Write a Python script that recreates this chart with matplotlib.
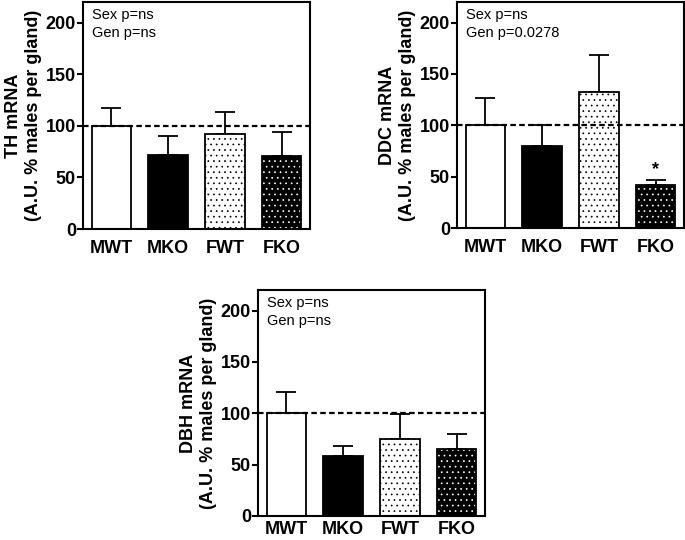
import matplotlib
matplotlib.use("Agg")
import matplotlib.pyplot as plt

plt.rcParams["font.family"] = ["Liberation Sans", "DejaVu Sans"]
plt.rcParams["hatch.linewidth"] = 0.5

groups = ["MWT", "MKO", "FWT", "FKO"]

th_mean = [100, 71.5, 92, 70.5]
th_err = [17, 18.5, 21, 23.5]

ddc_mean = [100, 80, 132.5, 41.5]
ddc_err = [26.5, 20, 36, 5]

dbh_mean = [100, 58.5, 74.5, 65.5]
dbh_err = [21, 10, 25, 14.5]

panels = [
    ("TH mRNA", th_mean, th_err, ["Sex p=ns", "Gen p=ns"], [None, None, None, None]),
    ("DDC mRNA", ddc_mean, ddc_err, ["Sex p=ns", "Gen p=0.0278"], [None, None, None, "*"]),
    ("DBH mRNA", dbh_mean, dbh_err, ["Sex p=ns", "Gen p=ns"], [None, None, None, None]),
]

rects = [
    [83 / 685, 311 / 540, 227 / 685, 227 / 540],
    [457 / 685, 312 / 540, 227 / 685, 226 / 540],
    [258 / 685, 24 / 540, 227 / 685, 226 / 540],
]
xpads = [8, 8, 3.5]

# face colour, hatch, hatch colour
styles = [("white", "", "black"), ("black", "", "black"),
          ("white", "...", "black"), ("black", "...", "white")]

fig = plt.figure(figsize=(6.85, 5.4), dpi=100)

for (name, mean, err, notes, marks), rect, xpad in zip(panels, rects, xpads):
    ax = fig.add_axes(rect)
    x = list(range(len(groups)))
    for i, (fc, h, hc) in enumerate(styles):
        ax.bar(x[i], mean[i], width=0.7, color=fc, hatch=h, edgecolor=hc,
               linewidth=0, zorder=2)
        ax.bar(x[i], mean[i], width=0.7, fill=False, edgecolor="black",
               linewidth=1.3, zorder=3)
    ax.errorbar(x, mean, yerr=[[0] * len(err), err], fmt="none", ecolor="black",
                elinewidth=1.3, capsize=7, capthick=1.3, zorder=1)
    ax.axhline(100, color="black", lw=1.6, ls=(0, (2.5, 1.5)), zorder=4)
    for i, m in enumerate(marks):
        if m:
            ax.text(x[i], mean[i] + err[i] + 2, m, ha="center", va="bottom",
                    fontsize=13, fontweight="bold")
    ax.text(0.04, 0.975, notes[0], transform=ax.transAxes, ha="left", va="top", fontsize=10.5)
    ax.text(0.04, 0.895, notes[1], transform=ax.transAxes, ha="left", va="top", fontsize=10.5)

    ax.set_xlim(-0.5, 3.5)
    ax.set_ylim(0, 220)
    ax.set_yticks([0, 50, 100, 150, 200])
    ax.set_xticks(x, groups)
    ax.tick_params(axis="x", length=0, pad=xpad)
    ax.tick_params(axis="y", length=4, width=1.5, pad=1)
    for lab in ax.get_xticklabels() + ax.get_yticklabels():
        lab.set_fontsize(13)
        lab.set_fontweight("bold")
    for sp in ax.spines.values():
        sp.set_linewidth(1.5)
    ax.set_ylabel(f"{name}\n(A.U. % males per gland)", fontsize=13,
                  fontweight="bold", labelpad=3, linespacing=1.2)

fig.savefig("out.png", dpi=100)
